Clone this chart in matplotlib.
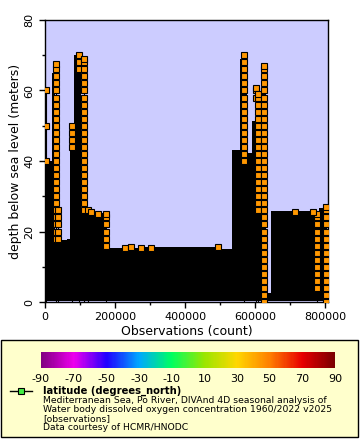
import numpy as np
import matplotlib
matplotlib.use('Agg')
import matplotlib.pyplot as plt
from matplotlib.colors import LinearSegmentedColormap, Normalize
from matplotlib.patches import Rectangle
from matplotlib.lines import Line2D
from matplotlib.cm import ScalarMappable

plt.rcParams['axes.unicode_minus'] = False

# envelope of the black mass: segment start (count) and deepest depth reached (m)
env_start = [0, 5000, 21000, 29000, 62000, 71000, 83000, 104000,
             176000, 286000, 505000, 535000, 557000, 578000, 592000, 619000,
             631000, 636000, 647000, 784000]
env_depth = [39.5, 40.0, 65.0, 17.5, 18.0, 45.0, 70.2, 25.3,
             15.3, 15.6, 15.1, 43.0, 68.8, 42.3, 51.3, 62.2,
             10.6, 2.5, 25.7, 26.7]
env_end = 805000

# standard depth levels of the analysis (m)
depth_levels = [0, 2, 4, 6, 8, 10, 12, 14, 16, 18, 20, 22, 24, 26, 28, 30, 32, 34,
                36, 38, 40, 42, 44, 46, 48, 50, 52, 54, 56, 58, 60, 62, 64, 66, 68, 70]

# casts whose markers stay visible (count, shallowest and deepest visible depth)
col_x = [31000, 37000, 76000, 97000, 112000, 124000, 174000,
         568000, 602000, 608000, 626000, 776000, 803000]
col_lo = [18, 18, 44, 66, 26, 26, 16, 40, 58, 25, 0, 4, 0]
col_hi = [67.5, 26, 50, 70, 69, 26, 25, 70, 60.8, 59, 67, 25, 27]

# single visible points
pt_x = [3500, 3500, 3500, 130000, 150000, 228000, 245000, 275000, 302000, 495000, 715000, 765000]
pt_d = [60, 50, 40, 25.6, 25.1, 15.4, 15.6, 15.4, 15.3, 15.6, 25.4, 25.4]
pt_line_x = 3500
pt_line_top = 60

latitude = 44.8

cb_ticks = [-90, -70, -50, -30, -10, 10, 30, 50, 70, 90]
cb_colors = [(-90, '#800080'), (-70, '#EE00EE'), (-50, '#2200FF'), (-30, '#00A8FF'),
             (-10, '#00FF60'), (10, '#99E600'), (30, '#FFD700'), (50, '#FF8000'),
             (70, '#E80000'), (90, '#7A0000')]

cmap = LinearSegmentedColormap.from_list(
    'rainbow_erd', [((v + 90) / 180, c) for v, c in cb_colors])
norm = Normalize(-90, 90)
mcolor = cmap(norm(latitude))

fig = plt.figure(figsize=(3.6, 4.4), dpi=100)
ax = fig.add_axes([45 / 360, 1 - 302 / 440, 283 / 360, 282 / 440])
ax.set_facecolor('#CCCCFF')

# black mass of the connecting lines
xs = env_start + [env_end]
ds = env_depth + [env_depth[-1]]
ax.fill_between(xs, 0.3, ds, step='post', color='black', lw=0, zorder=2)
ax.plot([pt_line_x, pt_line_x], [0, pt_line_top], color='black', lw=0.8, zorder=2)

for x, lo, hi in zip(col_x, col_lo, col_hi):
    ax.plot([x, x], [0.3, hi], color='black', lw=0.8, zorder=3)
    d = [l for l in depth_levels if lo <= l < hi] + [hi]
    ax.plot([x] * len(d), d, ls='none', marker='s', ms=4.5, mfc=mcolor,
            mec='black', mew=0.8, zorder=4)

ax.plot(pt_x, pt_d, ls='none', marker='s', ms=4.5, mfc=mcolor,
        mec='black', mew=0.8, zorder=4)

ax.set_xlim(0, 808500)
ax.set_ylim(0, 80)
ax.set_xticks([0, 200000, 400000, 600000, 800000])
ax.set_xticks([100000, 300000, 500000, 700000], minor=True)
ax.set_yticks([0, 20, 40, 60, 80])
ax.set_yticks([10, 30, 50, 70], minor=True)
ax.tick_params(labelsize=8, length=4, width=1, direction='out')
ax.tick_params(which='minor', length=2.5, width=1)
for lab in ax.get_yticklabels():
    lab.set_rotation(90)
    lab.set_va('center')
for s in ax.spines.values():
    s.set_linewidth(1)
ax.set_xlabel('Observations (count)', fontsize=9, labelpad=2)
ax.set_ylabel('depth below sea level (meters)', fontsize=9, labelpad=2)

# legend box
fig.patches.append(Rectangle((1 / 360, 1 - 437 / 440), 357 / 360, 97 / 440,
                             transform=fig.transFigure, facecolor='#FFFFCC',
                             edgecolor='black', lw=1, zorder=-5))

cax = fig.add_axes([41 / 360, 1 - 368 / 440, 294 / 360, 16 / 440])
cax.set_zorder(5)
cb = fig.colorbar(ScalarMappable(norm=norm, cmap=cmap), cax=cax, orientation='horizontal')
cb.set_ticks(cb_ticks)
cb.outline.set_visible(False)
cax.tick_params(length=0, labelsize=8, pad=4)

fig.add_artist(Line2D([10 / 360, 32 / 360], [1 - 391 / 440, 1 - 391 / 440],
                      transform=fig.transFigure, color='black', lw=1))
fig.add_artist(Line2D([21 / 360], [1 - 391 / 440], transform=fig.transFigure,
                      marker='s', ms=4.5, mfc='#44EE44', mec='black', mew=0.8))

fig.text(43 / 360, 1 - 391 / 440, 'latitude (degrees_north)', fontsize=7.2,
         fontweight='bold', va='center')
lines = ['Mediterranean Sea, Po River, DIVAnd 4D seasonal analysis of',
         'Water body dissolved oxygen concentration 1960/2022 v2025',
         '[observations]',
         'Data courtesy of HCMR/HNODC']
for i, t in enumerate(lines):
    fig.text(43 / 360, 1 - (400.5 + 9 * i) / 440, t, fontsize=6.7, va='center')

fig.savefig('out.png', dpi=100)
